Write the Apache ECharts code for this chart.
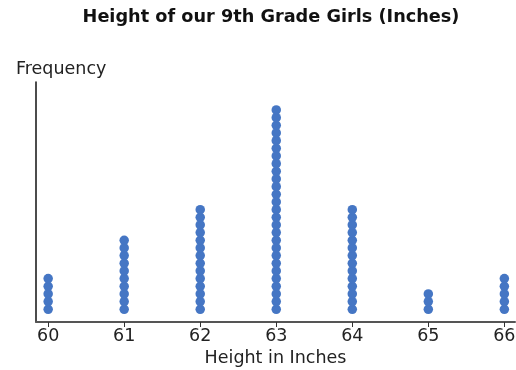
<!DOCTYPE html>
<html>
<head>
<meta charset="utf-8">
<script src="https://cdn.jsdelivr.net/npm/echarts@6/dist/echarts.min.js"></script>
<style>
  html, body { margin: 0; padding: 0; background: #fff; }
  #chart { width: 516px; height: 370px; }
</style>
</head>
<body>
<div id="chart"></div>
<script>
// heights (inches) and how many girls at each
var heights = [60, 61, 62, 63, 64, 65, 66]
var counts = [5, 10, 14, 27, 14, 3, 5]

// one dot per girl, stacked upward
var dots = []
for (var i = 0; i < heights.length; i++) {
  for (var k = 0; k < counts[i]; k++) {
    dots.push([heights[i], k])
  }
}

var myChart = echarts.init(document.getElementById('chart'))
var option = {
  animation: false,
  title: [
    {
      text: 'Height of our 9th Grade Girls (Inches)',
      left: 266,
      textAlign: 'center',
      top: 3,
      textStyle: { fontFamily: 'DejaVu Sans', fontSize: 17.7, fontWeight: 'bold', color: '#111' }
    },
    {
      text: 'Frequency',
      left: 11,
      top: 55,
      textStyle: { fontFamily: 'DejaVu Sans', fontSize: 17.5, fontWeight: 'normal', color: '#222' }
    }
  ],
  grid: { left: 36, right: 1, top: 82, bottom: 48, outerBoundsMode: 'none' },
  xAxis: {
    type: 'value',
    min: 59.84,
    max: 66.14,
    name: 'Height in Inches',
    nameLocation: 'middle',
    nameGap: 27,
    nameTextStyle: { fontFamily: 'DejaVu Sans', fontSize: 17.5, color: '#222' },
    axisLine: { show: true, onZero: false, lineStyle: { color: '#555', width: 2 } },
    axisTick: { show: true, length: 5, customValues: heights, lineStyle: { color: '#333' } },
    axisLabel: {
      customValues: heights,
      margin: 5,
      fontFamily: 'DejaVu Sans',
      fontSize: 17.5,
      color: '#222'
    },
    splitLine: { show: false }
  },
  yAxis: {
    type: 'value',
    min: -1.66,
    max: 29.65,
    axisLine: { show: true, onZero: false, lineStyle: { color: '#111', width: 1.5 } },
    axisTick: { show: false },
    axisLabel: { show: false },
    splitLine: { show: false }
  },
  series: [{
    type: 'scatter',
    data: dots,
    symbol: 'circle',
    symbolSize: 9.5,
    itemStyle: { color: '#4576c4', opacity: 1 }
  }]
}
myChart.setOption(option)
</script>
</body>
</html>
